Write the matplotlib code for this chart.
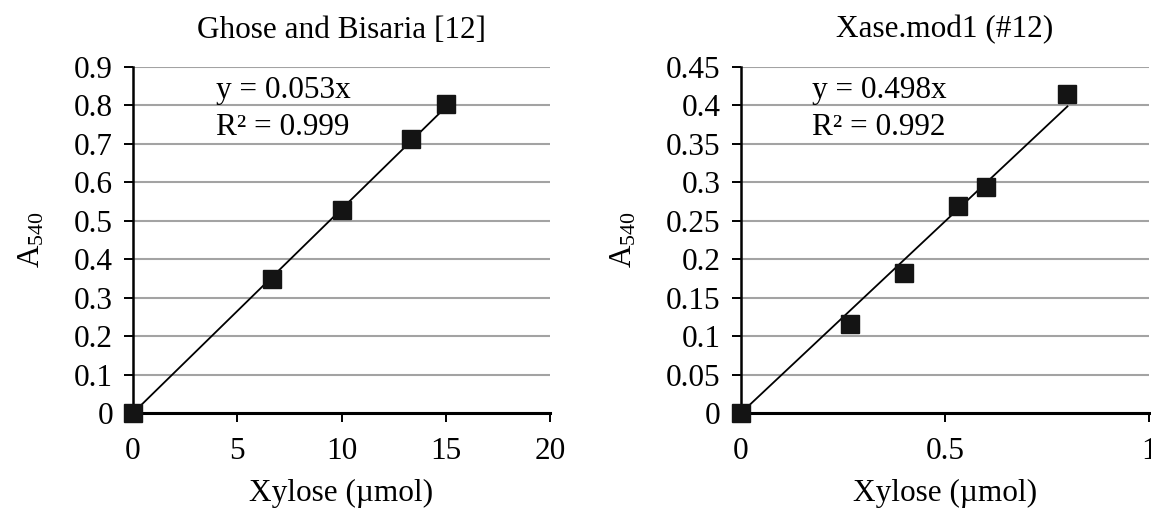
import matplotlib
matplotlib.use('Agg')
import matplotlib.pyplot as plt

plt.rcParams['font.family'] = ['Liberation Serif', 'DejaVu Serif']
plt.rcParams['mathtext.fontset'] = 'custom'
plt.rcParams['mathtext.rm'] = 'Liberation Serif'
plt.rcParams['mathtext.it'] = 'Liberation Serif:italic'

# left panel: Ghose and Bisaria
x_gb = [0, 6.67, 10, 13.33, 15]
y_gb = [0, 0.348, 0.527, 0.711, 0.804]
slope_gb = 0.053
xt_gb = [0, 5, 10, 15, 20]
xtl_gb = ['0', '5', '10', '15', '20']
yt_gb = [0, 0.1, 0.2, 0.3, 0.4, 0.5, 0.6, 0.7, 0.8, 0.9]
ytl_gb = ['0', '0.1', '0.2', '0.3', '0.4', '0.5', '0.6', '0.7', '0.8', '0.9']

# right panel: Xase.mod1
x_xm = [0, 0.267, 0.4, 0.533, 0.6, 0.8]
y_xm = [0, 0.115, 0.182, 0.269, 0.294, 0.415]
slope_xm = 0.498
xt_xm = [0, 0.5, 1]
xtl_xm = ['0', '0.5', '1']
yt_xm = [0, 0.05, 0.1, 0.15, 0.2, 0.25, 0.3, 0.35, 0.4, 0.45]
ytl_xm = ['0', '0.05', '0.1', '0.15', '0.2', '0.25', '0.3', '0.35', '0.4', '0.45']

FS = 22.5

fig = plt.figure(figsize=(11.51, 5.11), dpi=100)
ax1 = fig.add_axes([0.1156, 0.1918, 0.3623, 0.6777])
ax2 = fig.add_axes([0.6438, 0.1918, 0.3545, 0.6777])


def panel(ax, xs, ys, slope, xt, xtl, yt, ytl, title, eq, r2, tx):
    ax.plot([0, max(xs)], [0, slope * max(xs)], color='black', lw=1.3, zorder=3)
    ax.plot(xs, ys, 's', color='#141414', ms=13, zorder=4, clip_on=False)
    ax.set_xlim(xt[0], xt[-1])
    ax.set_ylim(yt[0], yt[-1])
    ax.set_xticks(xt)
    ax.set_xticklabels(xtl)
    ax.set_yticks(yt)
    ax.set_yticklabels(ytl)
    ax.yaxis.grid(True, color='#a3a3a3', lw=1.5)
    ax.set_axisbelow(True)
    for s in ['top', 'right']:
        ax.spines[s].set_visible(False)
    ax.spines['left'].set_linewidth(1.8)
    ax.spines['bottom'].set_linewidth(2.2)
    ax.tick_params(axis='both', labelsize=FS, direction='out', length=6.5, width=1.4)
    ax.tick_params(axis='y', pad=8)
    ax.tick_params(axis='x', pad=11)
    ax.set_title(title, fontsize=FS, pad=21)
    ax.set_xlabel('Xylose (\u00b5mol)', fontsize=FS, labelpad=9)
    ax.set_ylabel('A$_{540}$', fontsize=FS, labelpad=20)
    ax.text(tx, 0.910, eq, transform=ax.transAxes, fontsize=FS, va='baseline', ha='left')
    ax.text(tx, 0.803, r2, transform=ax.transAxes, fontsize=FS, va='baseline', ha='left')


panel(ax1, x_gb, y_gb, slope_gb, xt_gb, xtl_gb, yt_gb, ytl_gb,
      'Ghose and Bisaria [12]', 'y = 0.053x', 'R\u00b2 = 0.999', 0.199)
panel(ax2, x_xm, y_xm, slope_xm, xt_xm, xtl_xm, yt_xm, ytl_xm,
      'Xase.mod1 (#12)', 'y = 0.498x', 'R\u00b2 = 0.992', 0.174)

fig.savefig('out.png', dpi=100)
